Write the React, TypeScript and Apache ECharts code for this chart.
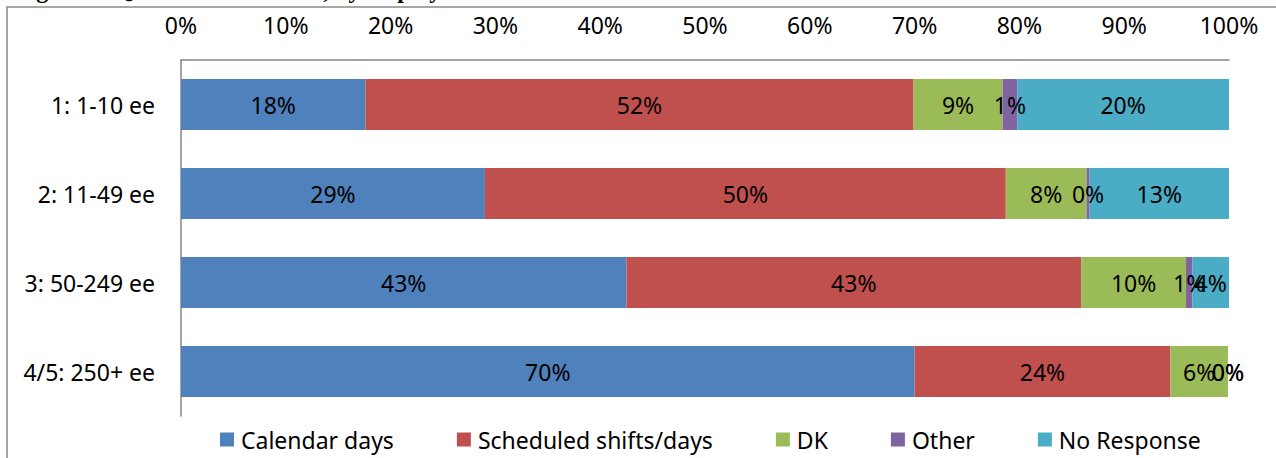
import React, { useEffect, useRef } from "react";
import * as echarts from "echarts";

const categories = ["1: 1-10 ee", "2: 11-49 ee", "3: 50-249 ee", "4/5: 250+ ee"];
const seriesNames = ["Calendar days", "Scheduled shifts/days", "DK", "Other", "No Response"];
const calendarDays = [17.6, 29.0, 42.5, 70.0];
const scheduledShifts = [52.3, 49.7, 43.4, 24.4];
const dk = [8.5, 7.7, 10.0, 5.5];
const other = [1.4, 0.3, 0.6, 0.0];
const noResponse = [20.2, 13.3, 3.5, 0.0];
const xTicks = [0, 10, 20, 30, 40, 50, 60, 70, 80, 90, 100];
const colors = ["#4F81BD", "#C0504D", "#9BBB59", "#8064A2", "#4BACC6"];
const titleText = "Figure 5: Question 4 time unit, by employer size";

const FONT = "Noto Sans";
const FS = 23;

export default function App() {
  const ref = useRef<HTMLDivElement>(null);
  useEffect(() => {
    document.body.style.margin = "0";
    if (!ref.current) return;
    const chart = echarts.init(ref.current, undefined, { renderer: "svg" });
    const values = [calendarDays, scheduledShifts, dk, other, noResponse];
    chart.setOption({
      animation: false,
      color: colors,
      textStyle: { fontFamily: FONT },
      graphic: [
        {
          type: "rect",
          shape: { x: 7, y: 7, width: 1400, height: 600 },
          style: { fill: "none", stroke: "#898989", lineWidth: 1.5 },
          silent: true,
        },
        {
          type: "text",
          x: 15,
          y: 2,
          style: {
            text: titleText,
            font: "bold 24px 'Liberation Serif'",
            fill: "#000",
            verticalAlign: "bottom",
          },
          silent: true,
        },
      ],
      grid: { left: 181, right: 47, top: 60, bottom: 42, containLabel: false },
      xAxis: {
        type: "value",
        position: "top",
        min: xTicks[0],
        max: xTicks[xTicks.length - 1],
        interval: 10,
        axisLine: { show: true, lineStyle: { color: "#868686", width: 1.5 } },
        axisTick: { show: false },
        splitLine: { show: false },
        axisLabel: {
          formatter: "{value}%",
          fontSize: FS,
          color: "#000",
          fontFamily: FONT,
          margin: 24,
        },
      },
      yAxis: {
        type: "category",
        inverse: true,
        data: categories,
        axisLine: { show: true, lineStyle: { color: "#868686", width: 1.5 } },
        axisTick: { show: false },
        axisLabel: { fontSize: FS, color: "#000", fontFamily: FONT, margin: 26 },
      },
      legend: {
        left: 215,
        top: 423,
        icon: "rect",
        itemWidth: 14,
        itemHeight: 14,
        itemGap: 63,
        textStyle: { fontSize: FS, color: "#000", fontFamily: FONT, padding: [0, 0, 0, 2] },
        data: seriesNames,
      },
      series: seriesNames.map((name, i) => ({
        name,
        type: "bar",
        stack: "total",
        barWidth: 51,
        data: values[i],
        itemStyle: { color: colors[i] },
        label: {
          show: true,
          position: "inside",
          color: "#000",
          fontSize: FS,
          fontFamily: FONT,
          formatter: (p: any) => Math.round(p.value) + "%",
        },
      })),
    });
    return () => chart.dispose();
  }, []);
  return <div ref={ref} style={{ width: 1276, height: 458 }} />;
}
